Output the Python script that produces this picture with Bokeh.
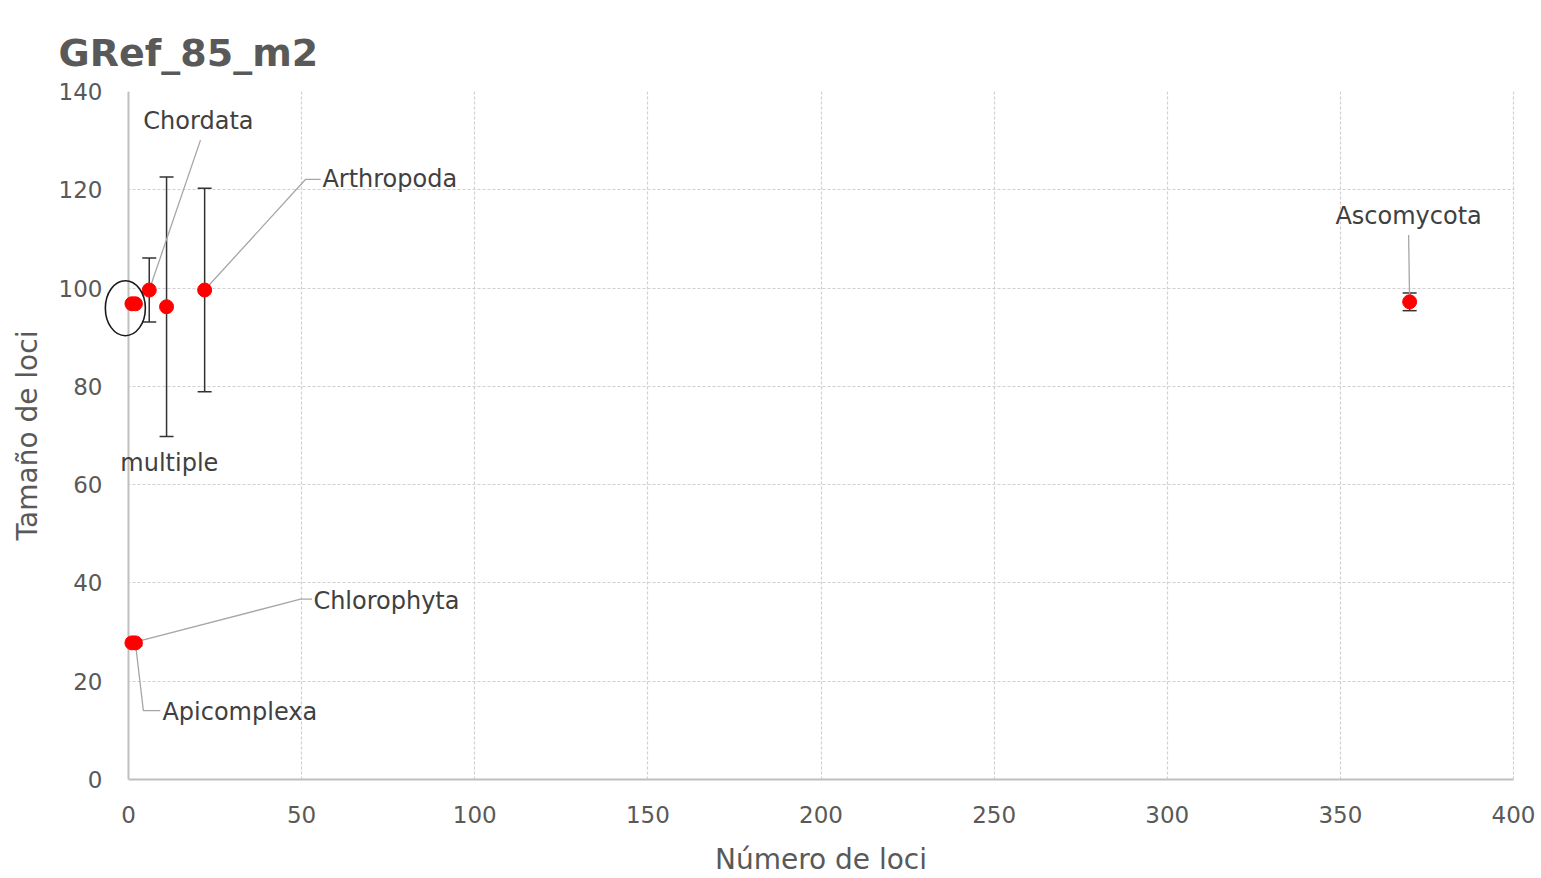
from bokeh.plotting import figure
from bokeh.models import (ColumnDataSource, Range1d, FixedTicker, Whisker, TeeHead,
                          Span, BoxAnnotation)
from bokeh.embed import file_html
from bokeh.resources import INLINE

# ---- data ----
phyla = ["Ascomycota", "Arthropoda", "multiple", "Chordata", "Chlorophyta", "Apicomplexa", "", ""]
num_loci = [370, 22, 11, 6, 1, 2, 1, 2]
loci_size = [97.2, 99.6, 96.2, 99.6, 27.8, 27.8, 96.8, 96.8]
size_err = [1.8, 20.7, 26.4, 6.5, 0.0, 0.6, 0.0, 0.0]
x_ticks = [0, 50, 100, 150, 200, 250, 300, 350, 400]
y_ticks = [0, 20, 40, 60, 80, 100, 120, 140]

# ---- label layout (data units: text anchor, and leader elbow points) ----
label_x = [369.7, 56.0, 11.8, 4.3, 53.4, 9.8]
label_y = [114.6, 122.1, 64.5, 133.9, 36.3, 13.8]
label_align = ["center", "left", "center", "left", "left", "left"]
leader_pts = [
    [(369.7, 110.8)],
    [(55.5, 122.1), (51.1, 122.1)],
    [],
    [(20.8, 130.1)],
    [(53.0, 36.7), (49.7, 36.7)],
    [(9.2, 14.0), (4.3, 14.0)],
]

FONT = "DejaVu Sans"
GREY = "#595959"
X_MIN, X_MAX = 0, 400
PAD = 7.5   # extra frame room on both sides so the hand-drawn circle is not clipped

p = figure(width=1541, height=878, output_backend="svg", toolbar_location=None,
           x_range=Range1d(X_MIN - PAD, X_MAX + PAD), y_range=Range1d(0, 140),
           min_border_left=102, min_border_right=2, min_border_top=91, min_border_bottom=97)
p.outline_line_color = None
p.background_fill_color = "white"
p.border_fill_color = "white"

p.title.text = "GRef_85_m2"
p.title.text_font = FONT
p.title.text_font_size = "38px"
p.title.text_font_style = "bold"
p.title.text_color = GREY
p.title.align = "left"
p.title.offset = -44
p.title.standoff = 34

for ax, ticks in ((p.xaxis[0], x_ticks), (p.yaxis[0], y_ticks)):
    ax.ticker = FixedTicker(ticks=ticks)
    ax.major_tick_out = 0
    ax.major_tick_in = 0
    ax.minor_tick_out = 0
    ax.minor_tick_in = 0
    ax.axis_line_color = "#bfbfbf"
    ax.axis_line_width = 2
    ax.major_label_text_font = FONT
    ax.major_label_text_font_size = "23px"
    ax.major_label_text_color = GREY
    ax.axis_label_text_font = FONT
    ax.axis_label_text_font_size = "28px"
    ax.axis_label_text_font_style = "normal"
    ax.axis_label_text_color = GREY

p.xaxis.bounds = (X_MIN, X_MAX)
p.yaxis.axis_line_color = None
p.xaxis.axis_label = "Número de loci"
p.yaxis.axis_label = "Tamaño de loci"
p.xaxis.major_label_standoff = 26
p.xaxis.axis_label_standoff = 17
p.yaxis.major_label_standoff = 0
p.yaxis.axis_label_standoff = 12

for g in (p.xgrid[0], p.ygrid[0]):
    g.grid_line_color = "#d0d0d0"
    g.grid_line_dash = "3 2"
    g.grid_line_width = 1.2
p.xgrid.ticker = FixedTicker(ticks=x_ticks)
p.ygrid.ticker = FixedTicker(ticks=y_ticks)

# mask grid overhang outside [0, 400] and draw the value axis line at x=0
p.add_layout(BoxAnnotation(right=X_MIN, fill_color="white", fill_alpha=1.0,
                           line_color=None, level="underlay"))
p.add_layout(BoxAnnotation(left=X_MAX + 0.3, fill_color="white", fill_alpha=1.0,
                           line_color=None, level="underlay"))
p.add_layout(Span(location=X_MIN, dimension="height", line_color="#bfbfbf", line_width=2,
                  level="underlay"))

# leader lines
lx, ly = [], []
for i, pts in enumerate(leader_pts):
    if not pts:
        continue
    lx.append([q[0] for q in pts] + [num_loci[i]])
    ly.append([q[1] for q in pts] + [loci_size[i]])
p.multi_line(lx, ly, line_color="#a6a6a6", line_width=1.3)

src = ColumnDataSource(dict(x=num_loci, y=loci_size))
err_src = ColumnDataSource(dict(
    x=[x for x, e in zip(num_loci, size_err) if e > 0],
    lo=[v - e for v, e in zip(loci_size, size_err) if e > 0],
    hi=[v + e for v, e in zip(loci_size, size_err) if e > 0],
))
wh = Whisker(source=err_src, base="x", lower="lo", upper="hi", dimension="height",
             line_color="#333333", line_width=1.5,
             upper_head=TeeHead(size=14, line_color="#333333", line_width=1.5),
             lower_head=TeeHead(size=14, line_color="#333333", line_width=1.5))
p.add_layout(wh)

p.scatter("x", "y", source=src, size=14, marker="circle", fill_color="#ff0000", line_color="#ff0000")

# hand-drawn circle around the unlabeled cluster
cl_x = sum(num_loci[6:8]) / 2 - 2.4
cl_y = sum(loci_size[6:8]) / 2 - 0.9
p.ellipse(x=[cl_x], y=[cl_y], width=40, height=55,
          width_units="screen", height_units="screen",
          fill_color=None, line_color="#1a1a1a", line_width=1.6)

lab_src = ColumnDataSource(dict(x=label_x, y=label_y, text=phyla[:6], align=label_align))
p.text(x="x", y="y", text="text", text_align="align", text_baseline="middle", source=lab_src,
       text_font={"value": FONT}, text_font_size={"value": "24px"}, text_color="#404040")

open("out.html", "w", encoding="utf-8").write(file_html(p, INLINE))
